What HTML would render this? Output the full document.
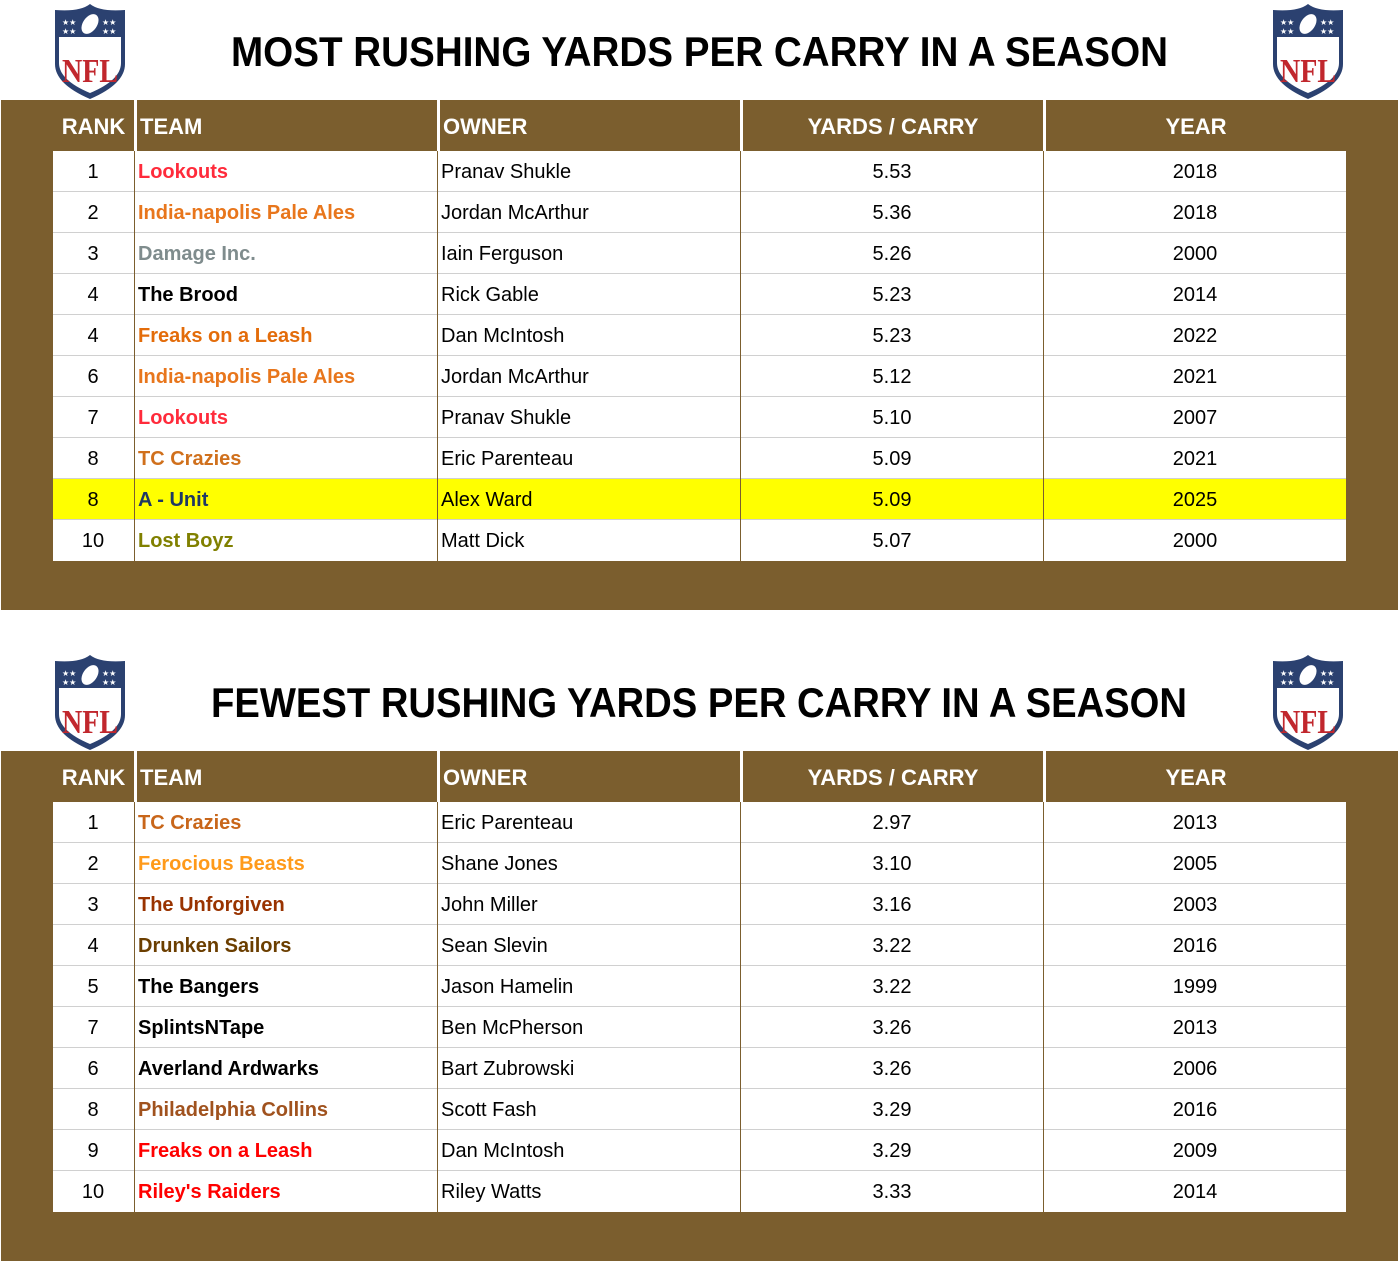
<!DOCTYPE html>
<html><head><meta charset="utf-8">
<style>
*{margin:0;padding:0;box-sizing:border-box}
body{width:1399px;height:1262px;background:#fff;position:relative;overflow:hidden;font-family:"Liberation Sans",sans-serif}
.panel{position:absolute;left:1px;width:1397px;background:#7B5E2E}
.title{position:absolute;font-weight:bold;font-size:42px;color:#000;white-space:nowrap;transform-origin:left center}
.cell{position:absolute;height:41px;line-height:43px;font-size:20px;white-space:nowrap;overflow:hidden}
.hd{position:absolute;height:51px;line-height:54px;color:#fff;font-weight:bold;font-size:22px;white-space:nowrap}
.logo{position:absolute;width:76px;height:98px}
</style></head><body>
<svg width="0" height="0" style="position:absolute"><defs>
<g id="nfl">
<path d="M38 2 Q28 10 3 8 L3 62 Q3 82 38 97 Q73 82 73 62 L73 8 Q48 10 38 2Z" fill="#2b4170"/>
<path d="M7 35 L69 35 L69 61 Q69 78 38 91 Q7 78 7 61Z" fill="#fff"/>
<ellipse cx="38" cy="22" rx="7" ry="11" fill="#fff" transform="rotate(35 38 22)"/>
<g fill="#fff" font-size="8" font-family="DejaVu Sans"><text x="10" y="23">★★</text><text x="10" y="32">★★</text><text x="50" y="23">★★</text><text x="50" y="32">★★</text></g>
<text x="38" y="80" text-anchor="middle" font-family="Liberation Serif" font-weight="bold" font-size="34" fill="#c1272d" textLength="56" lengthAdjust="spacingAndGlyphs">NFL</text>
</g></defs></svg>

<script>
const ranks1=["1","2","3","4","4","6","7","8","8","10"];
const teams1=["Lookouts","India-napolis Pale Ales","Damage Inc.","The Brood","Freaks on a Leash","India-napolis Pale Ales","Lookouts","TC Crazies","A - Unit","Lost Boyz"];
const teamColors1=["#FF2B3B","#E8761C","#7F8C8D","#000","#E36C0A","#E8761C","#FF2B3B","#D0701C","#1F3864","#808000"];
const owners1=["Pranav Shukle","Jordan McArthur","Iain Ferguson","Rick Gable","Dan McIntosh","Jordan McArthur","Pranav Shukle","Eric Parenteau","Alex Ward","Matt Dick"];
const ypc1=["5.53","5.36","5.26","5.23","5.23","5.12","5.10","5.09","5.09","5.07"];
const years1=["2018","2018","2000","2014","2022","2021","2007","2021","2025","2000"];
const ranks2=["1","2","3","4","5","7","6","8","9","10"];
const teams2=["TC Crazies","Ferocious Beasts","The Unforgiven","Drunken Sailors","The Bangers","SplintsNTape","Averland Ardwarks","Philadelphia Collins","Freaks on a Leash","Riley's Raiders"];
const teamColors2=["#C8661A","#FF9A1A","#993300","#6B3E00","#000","#000","#000","#A0521E","#FF0000","#FF0000"];
const owners2=["Eric Parenteau","Shane Jones","John Miller","Sean Slevin","Jason Hamelin","Ben McPherson","Bart Zubrowski","Scott Fash","Dan McIntosh","Riley Watts"];
const ypc2=["2.97","3.10","3.16","3.22","3.22","3.26","3.26","3.29","3.29","3.33"];
const years2=["2013","2005","2003","2016","1999","2013","2006","2016","2009","2014"];

function mk(tag,cls,style,text){const e=document.createElement(tag);if(cls)e.className=cls;Object.assign(e.style,style);if(text!=null)e.textContent=text;document.body.appendChild(e);return e;}
const colX=[53,134,437,740,1043,1346];
function section(top,title,ranks,teams,tcol,owners,ypc,years,hl){
  const sec=title.startsWith("MOST")?"most":"fewest";
  const logoL=mk("div","logo",{left:"52px",top:(top+2)+"px"});
  logoL.innerHTML='<svg width="76" height="98"><use href="#nfl"/></svg>';
  
  
  const logoR=mk("div","logo",{left:"1270px",top:(top+2)+"px"});
  logoR.innerHTML='<svg width="76" height="98"><use href="#nfl"/></svg>';
  
  
  const t=mk("div","title",{left:"0px",top:(top+28)+"px"},title);
  
  
  const target=title.startsWith("MOST")?[231,1168]:[211,1187];
  const w=t.getBoundingClientRect().width;
  t.style.left=target[0]+"px";t.style.transform="scaleX("+((target[1]-target[0])/w)+")";
  const p=mk("div","panel",{top:(top+100)+"px",height:"510px"});
  
  
  const heads=["RANK","TEAM","OWNER","YARDS / CARRY","YEAR"];
  const align=["center","left","left","center","center"];
  heads.forEach((h,i)=>{
    const e=mk("div","hd",{left:(colX[i]+(i?3:0))+"px",width:(colX[i+1]-colX[i]-(i?3:0))+"px",top:(top+100)+"px",textAlign:align[i],paddingLeft:align[i]=="left"?"3px":"0"},h);
    
    
  });
  const body=mk("div","",{position:"absolute",left:"53px",top:(top+151)+"px",width:"1293px",height:"410px",background:"#fff"});
  
  
  for(let r=0;r<10;r++){
    const y=top+151+r*41;
    const row=mk("div","",{position:"absolute",left:"53px",top:y+"px",width:"1293px",height:"41px",background:r===hl?"#FFFF00":"transparent",borderBottom:r<9?"1px solid #d0d0d0":"none"});
    
    
    const vals=[ranks[r],teams[r],owners[r],ypc[r],years[r]];
    const names=['rank','team','owner','yards-per-carry','year'];
    vals.forEach((v,i)=>{
      const c=mk("div","cell",{left:(colX[i]+(i?1:0))+"px",width:(colX[i+1]-colX[i]-1)+"px",top:y+"px",textAlign:align[i],paddingLeft:align[i]=="left"?"3px":"0",color:i==1?tcol[r]:"#000",fontWeight:i==1?"bold":"normal"},v);
      
      
    });
  }
  for(let i=1;i<5;i++){
    const l=mk("div","",{position:"absolute",left:colX[i]+"px",top:(top+100)+"px",width:"3px",height:"51px",background:"#fff"});
    
    
    const l2=mk("div","",{position:"absolute",left:colX[i]+"px",top:(top+151)+"px",width:"1px",height:"410px",background:"#7B5E2E"});
    
    
  }
}
section(0,"MOST RUSHING YARDS PER CARRY IN A SEASON",ranks1,teams1,teamColors1,owners1,ypc1,years1,8);
section(651,"FEWEST RUSHING YARDS PER CARRY IN A SEASON",ranks2,teams2,teamColors2,owners2,ypc2,years2,-1);
</script>
</body></html>
